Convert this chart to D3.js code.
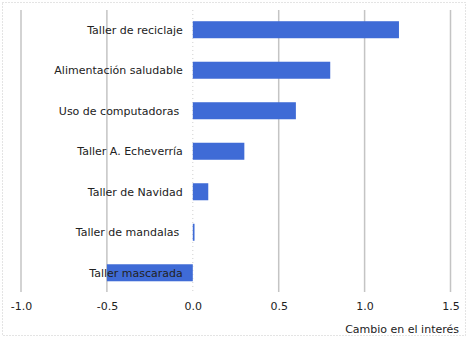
<!DOCTYPE html>
<html>
<head>
<meta charset="utf-8">
<script src="https://cdn.jsdelivr.net/npm/d3@7"></script>
<style>
  body { margin: 0; background: #fff; }
  text { font-family: "DejaVu Sans", Verdana, sans-serif; font-size: 11px; fill: #222; }
</style>
</head>
<body>
<div id="chart"></div>
<script>
// datos
var categorias = ["Taller de reciclaje", "Alimentación saludable", "Uso de computadoras ",
  "Taller A. Echeverría", "Taller de Navidad", "Taller de mandalas ", "Taller mascarada"];
var cambio = [1.20, 0.80, 0.60, 0.30, 0.09, 0.01, -0.50];
var ticks = [-1.0, -0.5, 0.0, 0.5, 1.0, 1.5];

var width = 468, height = 339;

var svg = d3.select("#chart").append("svg")
  .attr("width", width)
  .attr("height", height);

// borde punteado
svg.append("rect")
  .attr("x", 2.5).attr("y", 2.5)
  .attr("width", 463).attr("height", 333)
  .attr("fill", "none")
  .attr("stroke", "#c8c8c8")
  .attr("stroke-dasharray", "1,2");

var x = d3.scaleLinear().domain([-1, 1.5]).range([21, 450.5]);
var y = d3.scaleBand().domain(categorias).range([11.5, 291]).paddingInner(0.58).paddingOuter(0.24);

// lineas de la cuadricula
svg.selectAll(".grid")
  .data(ticks.filter(function (d) { return d !== 0; }))
  .enter().append("line")
  .attr("x1", function (d) { return x(d); })
  .attr("x2", function (d) { return x(d); })
  .attr("y1", 10).attr("y2", 292)
  .attr("stroke", "#c4c4c4")
  .attr("stroke-width", 1.5);

// linea del cero
svg.append("line")
  .attr("x1", x(0)).attr("x2", x(0))
  .attr("y1", 10).attr("y2", 292)
  .attr("stroke", "#d0d0d0")
  .attr("stroke-dasharray", "1,3");

svg.selectAll(".bar")
  .data(cambio)
  .enter().append("rect")
  .attr("x", function (d) { return x(Math.min(0, d)); })
  .attr("y", function (d, i) { return y(categorias[i]); })
  .attr("width", function (d) { return Math.max(1, Math.abs(x(d) - x(0))); })
  .attr("height", y.bandwidth())
  .attr("fill", "#3f6bd6");

// etiquetas de categorias
svg.selectAll(".lbl")
  .data(categorias)
  .enter().append("text")
  .attr("x", x(0) - 10)
  .attr("y", function (d) { return y(d) + y.bandwidth() / 2; })
  .attr("dy", "0.35em")
  .attr("text-anchor", "end")
  .style("white-space", "pre")
  .text(function (d) { return d; });

// eje x
var fmt = d3.format(".1f");
var axis = d3.axisBottom(x).tickValues(ticks)
  .tickFormat(function (d) { return fmt(d).replace("\u2212", "-"); })
  .tickSize(0).tickPadding(0);
var g = svg.append("g").attr("transform", "translate(0,302)").call(axis);
g.select(".domain").remove();
g.selectAll("text").style("font-size", "11px").attr("dy", "0.71em");

svg.append("text")
  .attr("x", 459).attr("y", 333)
  .attr("text-anchor", "end")
  .text("Cambio en el interés");
</script>
</body>
</html>
